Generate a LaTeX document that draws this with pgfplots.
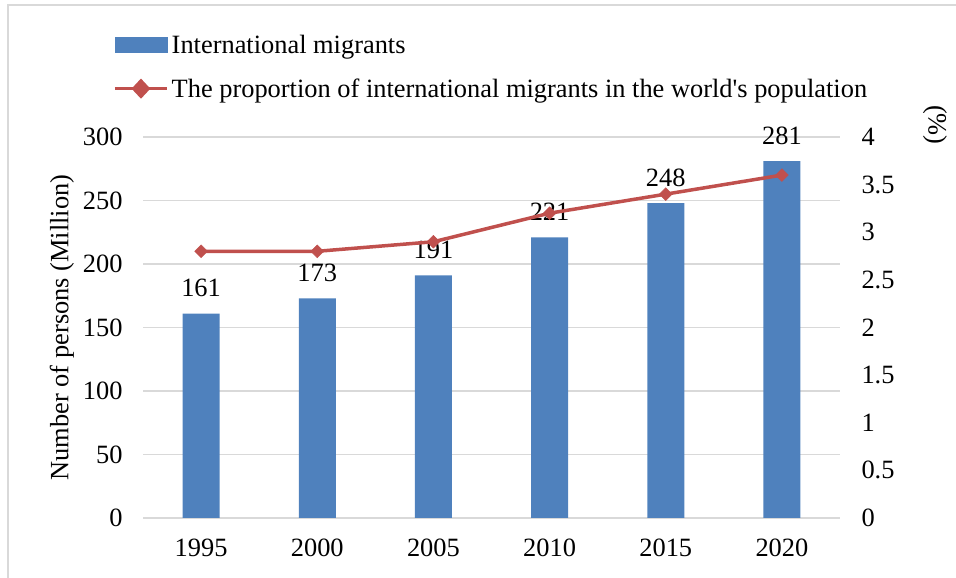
\documentclass[border=0pt]{standalone}
\usepackage{fontspec}
\setmainfont{Liberation Serif}[Ligatures=TeXOff]
\usepackage{pgfplots}
\pgfplotsset{compat=1.18}
\definecolor{barblue}{HTML}{4F81BD}
\definecolor{linered}{HTML}{C0504D}
\definecolor{gridgray}{HTML}{D9D9D9}
\begin{document}
\begin{tikzpicture}
\useasboundingbox (0,0) rectangle (956bp,578bp);
\draw[gridgray, line width=1.5bp] (8bp,0) -- (8bp,573bp) -- (956bp,573bp);
\pgfplotsset{
  common/.style={
    at={(143bp,60bp)}, anchor=south west,
    scale only axis, width=697bp, height=381bp,
    xmin=-0.5, xmax=5.5,
    font=\fontsize{26.5}{31}\selectfont,
    /pgf/number format/assume math mode=true,
    major tick length=0pt,
    tick style={draw=none},
  }
}
\begin{axis}[
  common,
  ymin=0, ymax=300,
  xtick={0,1,2,3,4,5},
  xticklabels={1995,2000,2005,2010,2015,2020},
  ytick={0,50,100,150,200,250,300},
  axis line style={draw=none},
  ymajorgrids, grid style={gridgray, line width=1.5bp},
  yticklabel style={anchor=east, xshift=-17bp},
  xticklabel style={yshift=-17bp},
  ylabel={Number of persons (Million)},
  ylabel style={at={(axis description cs:-0.1162,0.5)}, anchor=center, rotate=0},
]
\draw[gridgray, line width=1.5bp] (axis cs:-0.5,0) -- (axis cs:5.5,0);
\addplot[ybar, bar width=37bp, fill=barblue, draw=none,
  nodes near coords,
  nodes near coords style={font=\fontsize{26.5}{31}\selectfont, text=black, anchor=south, yshift=13bp},
] coordinates {(0,161) (1,173) (2,191) (3,221) (4,248) (5,281)};
\end{axis}
\begin{axis}[
  common,
  ymin=0, ymax=4,
  axis y line*=right,
  axis x line=none,
  axis line style={draw=none},
  ytick={0,0.5,1,1.5,2,2.5,3,3.5,4},
  yticklabel style={anchor=west, xshift=18bp},
  ylabel={(\%)},
  ylabel style={at={(axis description cs:1.1363,1.0315)}, anchor=center, rotate=180},
  legend style={at={(axis description cs:-0.0473,1.274)}, anchor=north west,
    draw=none, fill=none, font=\fontsize{26.5}{31}\selectfont,
    row sep=24bp, legend cell align=left,
    nodes={inner xsep=3bp, inner ysep=0pt}},
]
\addlegendimage{legend image code/.code={\fill[barblue] (0bp,-7.5bp) rectangle (52bp,7.5bp);}}
\addlegendentry{International migrants}
\addplot[linered, line width=3.5bp, mark=square*, mark size=4.5bp,
  mark options={fill=linered, draw=linered, line width=0.5bp, rotate=45},
  legend image code/.code={\draw[linered, line width=3.5bp] (0bp,0bp) -- (52bp,0bp); \fill[linered] (19bp,0bp) -- (26bp,7.5bp) -- (33bp,0bp) -- (26bp,-7.5bp) -- cycle;}
] coordinates {(0,2.8) (1,2.8) (2,2.9) (3,3.2) (4,3.4) (5,3.6)};
\addlegendentry{The proportion of international migrants in the world's population}
\end{axis}
\end{tikzpicture}
\end{document}
